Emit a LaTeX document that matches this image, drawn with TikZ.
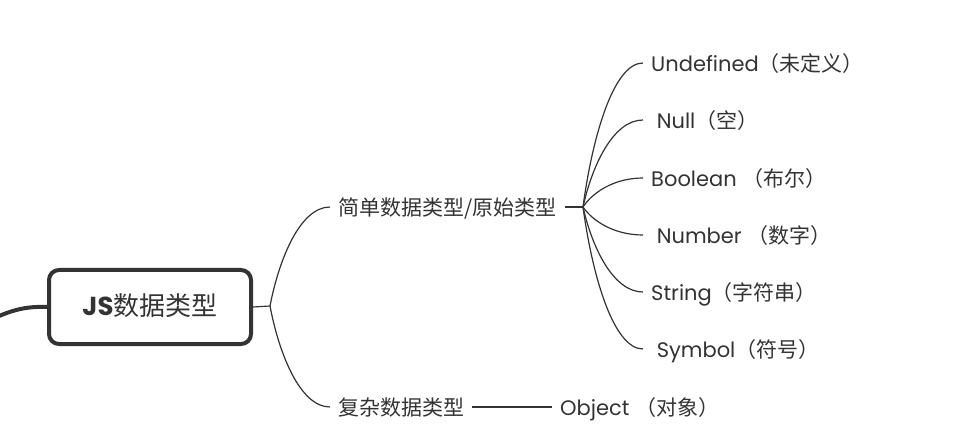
\documentclass[tikz,border=0pt]{standalone}
\usepackage{fontspec}
\setmainfont{Poppins}
\newfontfamily\cjk{Noto Sans CJK SC}
\usetikzlibrary{calc}
\definecolor{ink}{HTML}{333333}

\begin{document}
\begin{tikzpicture}[x=1pt,y=-1pt,
  topic/.style={draw=ink, line width=4pt, rounded corners=10pt, minimum width=202pt,
    minimum height=74pt, inner sep=0pt, text=ink, text height=16pt, text depth=0pt,
    font=\fontsize{26}{30}\selectfont},
  subtopic/.style={anchor=west, inner xsep=8pt, inner ysep=0pt, text=ink,
    text height=17pt, text depth=0pt, font=\fontsize{21}{25}\selectfont},
  line/.style={draw=ink, line width=1.2pt},
  branch/.style={to path={let \p1=(\tikztostart), \p2=(\tikztotarget) in
    .. controls ({\x1+0.15*(\x2-\x1)},{\y1+0.47*(\y2-\y1)}) and ({\x1+0.5*(\x2-\x1)},\y2) .. (\tikztotarget)}}]
\useasboundingbox (0,0) rectangle (966,430);
% define the topics
  \node[topic]    (root)    at (150,307) {{\bfseries JS}{\cjk 数据类型}};
  \node[subtopic] (simple)  at (330,207) {{\cjk 简单数据类型/原始类型}};
  \node[subtopic] (complex) at (330,407) {{\cjk 复杂数据类型}};
  \node[subtopic] (undef)   at (643,63)  {Undefined{\cjk（未定义）}};
  \node[subtopic] (null)    at (643,120) {~Null{\cjk（空）}};
  \node[subtopic] (bool)    at (643,178) {Boolean {\cjk（布尔）}};
  \node[subtopic] (number)  at (643,235) {~Number {\cjk（数字）}};
  \node[subtopic] (string)  at (643,292) {String{\cjk（字符串）}};
  \node[subtopic] (symbol)  at (643,349) {~Symbol{\cjk（符号）}};
  \node[subtopic] (object)  at (552,407) {Object {\cjk（对象）}};
  \coordinate (rootj)   at (270,306);
  \coordinate (simplej) at (583,207);
  \coordinate (parent)  at (-30,330);

% define the links
  \draw[ink, line width=4pt] (parent) .. controls (5,312) and (20,306) .. (root.west);
  \draw[line] (root.east) -- (rootj);
  \path[line] (rootj) edge[branch] (simple.west)
                      edge[branch] (complex.west);
  \draw[line, line width=2pt] (simple.east) -- (simplej);
  \path[line] (simplej) edge[branch] (undef.west)
                        edge[branch] (null.west)
                        edge[branch] (bool.west)
                        edge[branch] (number.west)
                        edge[branch] (string.west)
                        edge[branch] (symbol.west);
  \draw[line] (complex.east) -- (object.west);
\end{tikzpicture}
\end{document}
